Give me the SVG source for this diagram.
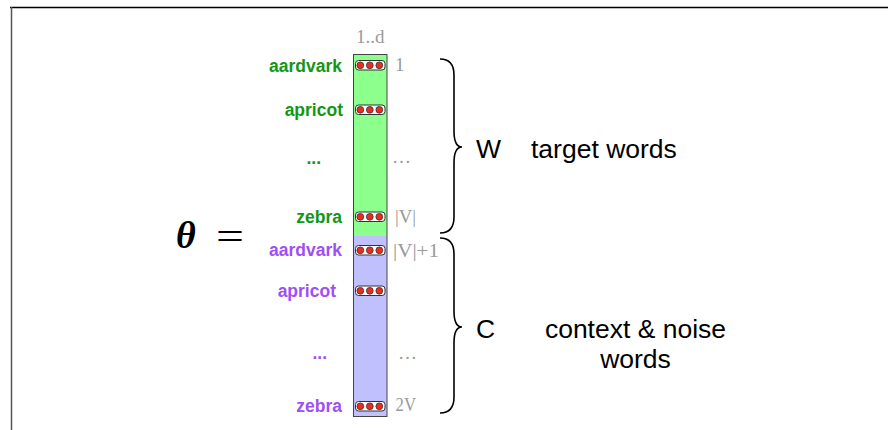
<svg xmlns="http://www.w3.org/2000/svg" width="889" height="430" viewBox="0 0 889 430">
<style>
.lbl{font-family:"Liberation Sans",Arial,sans-serif;font-weight:bold;font-size:17.5px;text-anchor:end}
.g{fill:#149614}
.p{fill:#a04ff5}
.idx{font-family:"Liberation Serif","Times New Roman",serif;font-size:19px;fill:#9a9a9a}
.big{font-family:"Liberation Sans",Arial,sans-serif;font-size:26.5px;fill:#000}
.box{fill:#fff;stroke:#333;stroke-width:1}
.dot{fill:#ee2a1e;stroke:#333;stroke-width:0.8}
.brace{fill:none;stroke:#000;stroke-width:1.6}
</style>
<defs>
<g id="vec">
<rect class="box" x="355.5" y="-4.5" width="29.5" height="9.5" rx="3"/>
<circle class="dot" cx="360.3" cy="0.3" r="3.4"/>
<circle class="dot" cx="369.8" cy="0.3" r="3.4"/>
<circle class="dot" cx="379.3" cy="0.3" r="3.4"/>
</g>
</defs>
<rect width="889" height="430" fill="#fff"/>
<line x1="10" y1="7.5" x2="888" y2="7.5" stroke="#000" stroke-width="1.5"/>
<line x1="11.5" y1="7" x2="11.5" y2="430" stroke="#555" stroke-width="1.5"/>

<g id="theta">
<text x="176" y="248" font-family="'Liberation Serif','Times New Roman',serif" font-weight="bold" font-style="italic" font-size="38">θ</text>
<text x="216" y="250" font-family="'Liberation Serif','Times New Roman',serif" font-size="40" textLength="28" lengthAdjust="spacingAndGlyphs">=</text>
</g>

<g id="column">
<rect x="353.5" y="54.5" width="33.5" height="181.5" fill="#8cff8c"/>
<rect x="353.5" y="236" width="33.5" height="180.5" fill="#c0c0ff"/>
<rect x="353.5" y="54.5" width="33.5" height="362" fill="none" stroke="#444" stroke-width="1"/>
<text class="idx" x="356" y="43" font-size="16.5">1..d</text>
</g>

<g id="w-aardvark">
<use href="#vec" y="65"/>
<text class="lbl g" x="342" y="71.5">aardvark</text>
<text class="idx" x="395" y="71">1</text>
</g>
<g id="w-apricot">
<use href="#vec" y="109.5"/>
<text class="lbl g" x="343" y="115.5">apricot</text>
</g>
<g id="w-dots">
<text class="lbl g" x="321" y="164">...</text>
<text class="idx" x="392" y="163">…</text>
</g>
<g id="w-zebra">
<use href="#vec" y="216.5"/>
<text class="lbl g" x="342" y="222.5">zebra</text>
<text class="idx" x="395" y="223" textLength="21" lengthAdjust="spacingAndGlyphs">|V|</text>
</g>
<g id="c-aardvark">
<use href="#vec" y="250"/>
<text class="lbl p" x="342" y="256">aardvark</text>
<text class="idx" x="393" y="257" textLength="46" lengthAdjust="spacingAndGlyphs">|V|+1</text>
</g>
<g id="c-apricot">
<use href="#vec" y="290.5"/>
<text class="lbl p" x="336" y="296.5">apricot</text>
</g>
<g id="c-dots">
<text class="lbl p" x="327" y="359">...</text>
<text class="idx" x="398" y="359">…</text>
</g>
<g id="c-zebra">
<use href="#vec" y="406"/>
<text class="lbl p" x="342" y="412">zebra</text>
<text class="idx" x="395.5" y="411" textLength="20.5" lengthAdjust="spacingAndGlyphs">2V</text>
</g>

<g id="connectors">
<path class="brace" d="M440,59 Q454,59 454,75 L454,131 Q454,147 462,147 Q454,147 454,163 L454,217 Q454,233 440,233"/>
<path class="brace" d="M440,238 Q454,238 454,254 L454,311 Q454,327 462,327 Q454,327 454,343 L454,397 Q454,413 440,413"/>
</g>

<g id="W">
<text class="big" x="476" y="158">W</text>
<text class="big" x="531" y="158">target words</text>
</g>
<g id="C">
<text class="big" x="476" y="338">C</text>
<text class="big" x="635.5" y="338" text-anchor="middle">context &amp; noise</text>
<text class="big" x="635.5" y="368" text-anchor="middle">words</text>
</g>
</svg>
